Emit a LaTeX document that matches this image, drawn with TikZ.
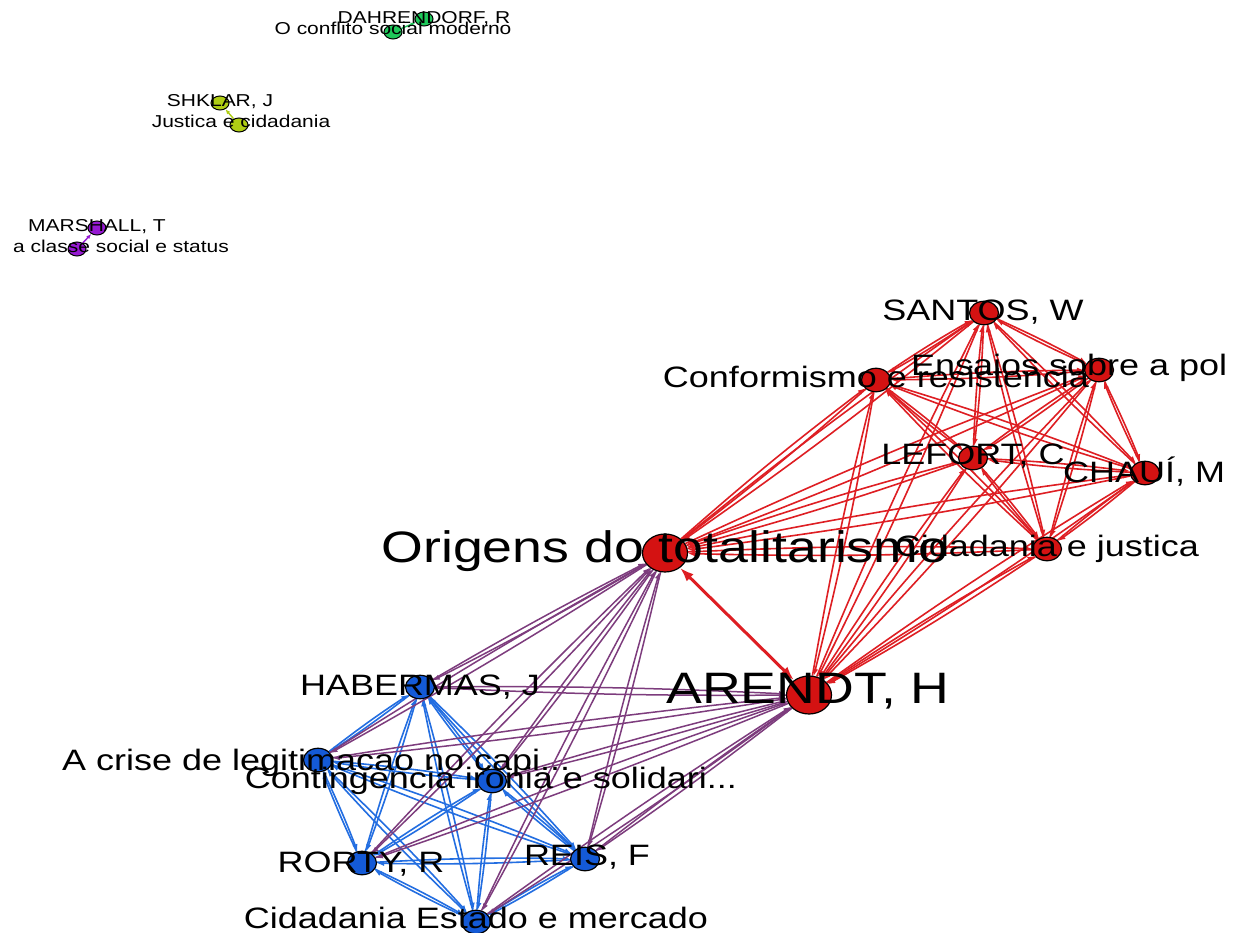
\documentclass[tikz,border=0pt]{standalone}
\usepackage{fontspec}
\usepackage{graphicx}
\setmainfont{Liberation Sans}
\usetikzlibrary{shapes.geometric,arrows.meta}
\pgfdeclarelayer{bg}
\pgfdeclarelayer{edges}
\pgfsetlayers{bg,edges,main}
\newcommand{\wtxt}[1]{\scalebox{1.22}[1]{#1}}
\definecolor{cRedN}{RGB}{212,18,18}
\definecolor{cRedE}{RGB}{222,30,35}
\definecolor{cBluN}{RGB}{20,90,215}
\definecolor{cBluE}{RGB}{35,110,225}
\definecolor{cPurE}{RGB}{125,60,125}
\definecolor{cGrnN}{RGB}{30,200,90}
\definecolor{cYelN}{RGB}{175,205,20}
\definecolor{cVioN}{RGB}{150,25,210}
\begin{document}
\begin{tikzpicture}[x=1pt,y=-1pt,
  vtx/.style={ellipse,draw=black,line width=1.2pt,inner sep=0pt,minimum width=29pt,minimum height=23.5pt},
  bigvtx/.style={vtx,minimum width=45pt,minimum height=38pt},
  smallvtx/.style={ellipse,draw=black,line width=1pt,inner sep=0pt,minimum width=18pt,minimum height=14pt},
  lab/.style={inner sep=0pt,anchor=base,font=\fontsize{29.5}{29.5}\selectfont},
  labw/.style={lab,anchor=base west},
  biglab/.style={lab,font=\fontsize{44}{44}\selectfont},
  smalllab/.style={lab,font=\fontsize{17.2}{17.2}\selectfont},
  redge/.style={draw=cRedE,line width=1.6pt,-{Latex[length=7pt,width=5.5pt]}},
  bedge/.style={draw=cBluE,line width=1.6pt,-{Latex[length=7pt,width=5.5pt]}},
  pedge/.style={draw=cPurE,line width=1.5pt,-{Latex[length=7pt,width=5.5pt]}},
  bigedge/.style={draw=cRedE,line width=3pt,{Latex[length=14pt,width=10pt]}-{Latex[length=14pt,width=10pt]}}
]
\useasboundingbox (0,0) rectangle (1237,933);
\begin{pgfonlayer}{bg}
\fill[white] (0,0) rectangle (1237,933);
\end{pgfonlayer}

% isolated pairs
\node[smallvtx,fill=cGrnN] (Dh) at (424,19) {};
\node[smallvtx,fill=cGrnN] (Oc) at (393,32) {};
\node[smallvtx,fill=cYelN] (Sh) at (220,103) {};
\node[smallvtx,fill=cYelN] (Jc) at (239,125) {};
\node[smallvtx,fill=cVioN] (Ma) at (97,228) {};
\node[smallvtx,fill=cVioN] (Cl) at (77,249) {};

% red cluster
\node[vtx,fill=cRedN] (S) at (984,313) {};
\node[vtx,fill=cRedN] (E) at (1099,370) {};
\node[vtx,fill=cRedN] (C) at (876,380) {};
\node[vtx,fill=cRedN] (L) at (973,458) {};
\node[vtx,fill=cRedN] (H) at (1145,473) {};
\node[vtx,fill=cRedN] (J) at (1047,549) {};
\node[bigvtx,fill=cRedN] (O) at (665,553) {};
\node[bigvtx,fill=cRedN] (A) at (809,695) {};

% blue cluster
\node[vtx,fill=cBluN] (Hb) at (420,687) {};
\node[vtx,fill=cBluN] (Cr) at (318,760) {};
\node[vtx,fill=cBluN] (Ct) at (492,781) {};
\node[vtx,fill=cBluN] (R) at (362,863) {};
\node[vtx,fill=cBluN] (Rs) at (585,859) {};
\node[vtx,fill=cBluN] (CE) at (476,922) {};

\begin{pgfonlayer}{edges}
\draw[draw=cGrnN,line width=1.4pt,-{Latex[length=5pt,width=4pt]}] (Oc) -- (Dh);
\draw[draw=cYelN,line width=1.4pt,-{Latex[length=5pt,width=4pt]}] (Jc) -- (Sh);
\draw[draw=cVioN,line width=1.4pt,-{Latex[length=5pt,width=4pt]}] (Cl) -- (Ma);
\foreach \a/\b in {S/E,S/C,S/L,S/H,S/J,S/O,S/A,E/C,E/L,E/H,E/J,E/O,E/A,C/L,C/H,C/J,C/O,C/A,L/H,L/J,L/O,L/A,H/J,H/O,H/A,J/O,J/A}{
  \draw[redge] (\a) to[bend left=2] (\b);
  \draw[redge] (\b) to[bend left=2] (\a);
}
\draw[bigedge] (O) -- (A);
\foreach \a/\b in {Hb/Cr,Hb/Ct,Hb/R,Hb/Rs,Hb/CE,Cr/Ct,Cr/R,Cr/Rs,Cr/CE,Ct/R,Ct/Rs,Ct/CE,R/Rs,R/CE,Rs/CE}{
  \draw[bedge] (\a) to[bend left=2] (\b);
  \draw[bedge] (\b) to[bend left=2] (\a);
}
\foreach \a in {Hb,Cr,Ct,R,Rs,CE}{
  \foreach \b in {O,A}{
    \draw[pedge] (\a) to[bend left=1.5] (\b);
    \draw[pedge] (\b) to[bend left=1.5] (\a);
  }
}
\end{pgfonlayer}

% labels
\node[smalllab] (lDh) at (424,24) {\wtxt{DAHRENDORF, R}};
\node[smalllab] (lOc) at (393,35) {\wtxt{O conflito social moderno}};
\node[smalllab] (lSh) at (220,107) {\wtxt{SHKLAR, J}};
\node[smalllab] (lJc) at (241,128) {\wtxt{Justica e cidadania}};
\node[smalllab] (lMa) at (97,232) {\wtxt{MARSHALL, T}};
\node[smalllab] (lCl) at (121,253) {\wtxt{a classe social e status}};

\node[lab] (lS) at (983,320) {\wtxt{SANTOS, W}};
\node[labw] (lE) at (911,375) {\wtxt{Ensaios sobre a pol}};
\node[lab] (lC) at (876,387) {\wtxt{Conformismo e resistencia}};
\node[lab] (lL) at (973,464) {\wtxt{LEFORT, C}};
\node[labw] (lH) at (1063,482) {\wtxt{CHAUÍ, M}};
\node[lab] (lJ) at (1047,556) {\wtxt{Cidadania e justica}};
\node[biglab] (lO) at (665,562) {\wtxt{Origens do totalitarismo}};
\node[biglab] (lA) at (808,703) {\wtxt{ARENDT, H}};

\node[lab] (lHb) at (420,695) {\wtxt{HABERMAS, J}};
\node[labw] (lCr) at (62,770) {\wtxt{A crise de legitimacao no capi...}};
\node[lab] (lCt) at (491,788) {\wtxt{Contingencia ironia e solidari...}};
\node[lab] (lR) at (361,872) {\wtxt{RORTY, R}};
\node[lab] (lRs) at (587,865) {\wtxt{REIS, F}};
\node[lab] (lCE) at (476,928) {\wtxt{Cidadania Estado e mercado}};
\end{tikzpicture}
\end{document}
